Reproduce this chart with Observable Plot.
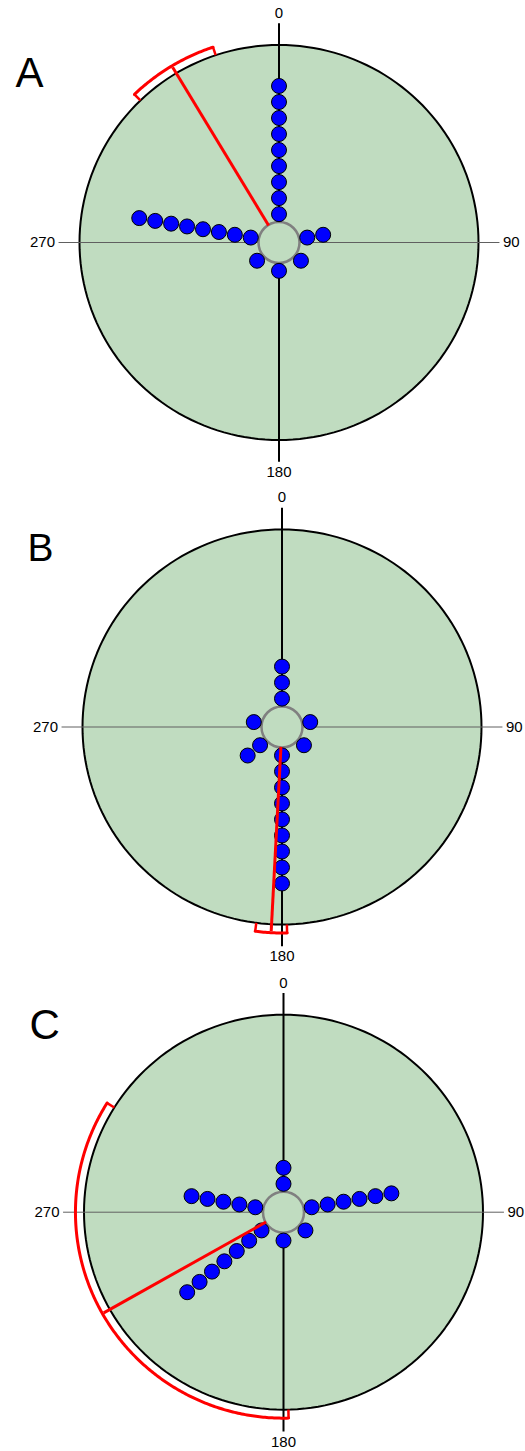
<!DOCTYPE html>
<html><head><meta charset="utf-8">
<script src="https://cdn.jsdelivr.net/npm/d3@7"></script>
<script src="https://cdn.jsdelivr.net/npm/@observablehq/plot@0.6"></script>
<style>body{margin:0;background:#fff} svg{display:block}</style>
</head><body>
<script>
// ---- data ----
const panelLabels = ["A", "B", "C"];
const binAngles = [0, 80, 130, 180, 230, 280];      // degrees, clockwise from north
const countsA = [9, 2, 1, 1, 1, 8];
const countsB = [3, 1, 1, 9, 2, 1];
const countsC = [2, 6, 1, 1, 7, 5];
const meanDirections = [329, 183, 240.5];
const ciLower = [316, 178.6, 178.6];
const ciUpper = [341.5, 187.4, 302];
const tickAngles = [0, 90, 180, 270];
const tickLabels = ["0", "90", "180", "270"];

// ---- layout / style ----
const W = 525;
const KX = 199.5, KY = 197.5, RU = 198.5;   // px per unit radius
const layout = [
  {h: 485, cx: 278.5, cy: 242,   fs: 42, lx: 15, ly: 57},
  {h: 485, cx: 281.5, cy: 241.5, fs: 39, lx: 27, ly: 48},
  {h: 481, cx: 283,   cy: 241.7, fs: 42, lx: 29, ly: 39}
];
const GREEN = "#c0dcc0";
const FONT = "Arial, 'Liberation Sans', sans-serif";
const allCounts = [countsA, countsB, countsC];

function polar(a, r) {
  const t = a * Math.PI / 180;
  return {x: r * Math.sin(t), y: r * Math.cos(t)};
}

const R0 = 28.5 / RU, STEP = 16.1 / RU;

panelLabels.forEach((lab, i) => {
  const L = layout[i];
  const counts = allCounts[i];
  const dots = [];
  binAngles.forEach((a, j) => {
    for (let k = 0; k < counts[j]; k++) dots.push(polar(a, R0 + STEP * k));
  });
  const circle = d3.range(0, 361, 2).map(a => polar(a, 1));
  const arcR = 207 / RU;
  const arcPts = d3.range(ciLower[i], ciUpper[i], 0.5).concat([ciUpper[i]]).map(a => polar(a, arcR));
  const ends = [ciLower[i], ciUpper[i]].map(a => {
    const p = polar(a, 1.0), q = polar(a, arcR + 0.004);
    return {x1: p.x, y1: p.y, x2: q.x, y2: q.y};
  });
  const ms = polar(meanDirections[i], 20 / RU), me = polar(meanDirections[i], 205.5 / RU);
  const h1 = polar(270, 1.105), h2 = polar(90, 1.105);
  const v1 = polar(0, 1.11), v2 = polar(180, 1.11);
  const ticks = tickAngles.map((a, j) => {
    const r = (a === 0 || a === 180) ? 229.5 / KY : 224 / KX;
    return {...polar(a, r), text: tickLabels[j], a};
  });

  const svg = Plot.plot({
    width: W, height: L.h,
    margin: 0,
    style: {fontFamily: FONT, background: "white", overflow: "visible"},
    x: {domain: [-L.cx / KX, (W - L.cx) / KX], axis: null},
    y: {domain: [-(L.h - L.cy) / KY, L.cy / KY], axis: null},
    marks: [
      Plot.line(circle, {x: "x", y: "y", fill: GREEN, stroke: "black", strokeWidth: 2}),
      Plot.link([{x1: h1.x, y1: h1.y, x2: h2.x, y2: h2.y}], {x1: "x1", y1: "y1", x2: "x2", y2: "y2", stroke: "#606060", strokeWidth: 1}),
      Plot.link([{x1: v1.x, y1: v1.y, x2: v2.x, y2: v2.y}], {x1: "x1", y1: "y1", x2: "x2", y2: "y2", stroke: "black", strokeWidth: 2}),
      Plot.dot([{x: 0, y: 0}], {x: "x", y: "y", r: 20.5, fill: GREEN, stroke: "#808080", strokeWidth: 2.5}),
      Plot.dot(dots, {x: "x", y: "y", r: 7.5, fill: "#0000ff", stroke: "black", strokeWidth: 1}),
      Plot.link([{x1: ms.x, y1: ms.y, x2: me.x, y2: me.y}], {x1: "x1", y1: "y1", x2: "x2", y2: "y2", stroke: "#ff0000", strokeWidth: 3}),
      Plot.line(arcPts, {x: "x", y: "y", stroke: "#ff0000", strokeWidth: 3}),
      Plot.link(ends, {x1: "x1", y1: "y1", x2: "x2", y2: "y2", stroke: "#ff0000", strokeWidth: 2.5}),
      Plot.text(ticks.filter(d => d.a === 0 || d.a === 180), {x: "x", y: "y", text: "text", textAnchor: "middle", fontSize: 15, fill: "black"}),
      Plot.text(ticks.filter(d => d.a === 90), {x: "x", y: "y", text: "text", textAnchor: "start", fontSize: 15, fill: "black"}),
      Plot.text(ticks.filter(d => d.a === 270), {x: "x", y: "y", text: "text", textAnchor: "end", fontSize: 15, fill: "black"}),
      Plot.text([lab], {frameAnchor: "top-left", dx: L.lx, dy: L.ly, text: d => d, textAnchor: "start", lineAnchor: "top", fontSize: L.fs, fill: "black"})
    ]
  });
  document.body.appendChild(svg);
});
</script>
</body></html>
